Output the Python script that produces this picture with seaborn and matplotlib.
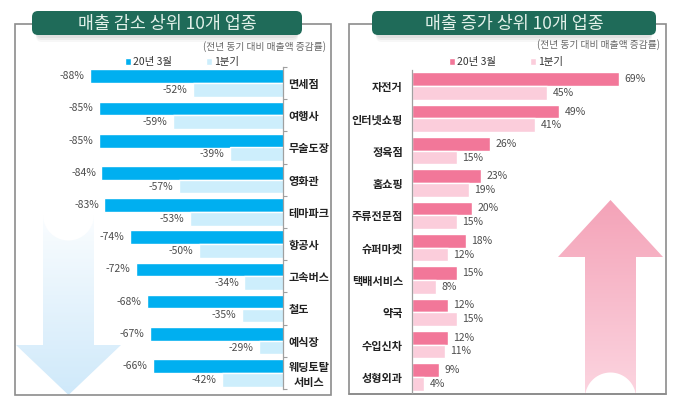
import numpy as np
import pandas as pd
import matplotlib.pyplot as plt
import seaborn as sns
from matplotlib.patches import Rectangle, FancyBboxPatch, PathPatch
from matplotlib.path import Path
from matplotlib.colors import LinearSegmentedColormap

# data
series = ['20년 3월', '1분기']

dec_cats = ['면세점', '여행사', '무술도장', '영화관', '테마파크',
            '항공사', '고속버스', '철도', '예식장', '웨딩토탈\n서비스']
dec_mar = [-88, -85, -85, -84, -83, -74, -72, -68, -67, -66]
dec_q1 = [-52, -59, -39, -57, -53, -50, -34, -35, -29, -42]

inc_cats = ['자전거', '인터넷쇼핑', '정육점', '홈쇼핑', '주류전문점',
            '슈퍼마켓', '택배서비스', '약국', '수입신차', '성형외과']
inc_mar = [69, 49, 26, 23, 20, 18, 15, 12, 12, 9]
inc_q1 = [45, 41, 15, 19, 15, 12, 8, 15, 11, 4]

W, H = 680, 403
sns.set_style('white')
plt.rcParams['font.family'] = ['Noto Sans CJK KR', 'DejaVu Sans']

fig = plt.figure(figsize=(W / 100, H / 100), dpi=100)

# background layer in pixel coordinates (boxes, banners, arrows)
bg = fig.add_axes([0, 0, 1, 1], zorder=0)
bg.set_xlim(0, W)
bg.set_ylim(H, 0)
bg.axis('off')


def px_axes(x0, y0, x1, y1):
    a = fig.add_axes([x0 / W, 1 - y1 / H, (x1 - x0) / W, (y1 - y0) / H], zorder=2)
    a.patch.set_alpha(0)
    return a


def gradient_shape(verts, codes, c_top, c_bot, y0, y1, x0, x1):
    path = Path(verts, codes)
    patch = PathPatch(path, facecolor='none', edgecolor='none')
    bg.add_patch(patch)
    cmap = LinearSegmentedColormap.from_list('g', [c_top, c_bot])
    grad = np.linspace(0, 1, 256).reshape(-1, 1)
    im = bg.imshow(grad, cmap=cmap, extent=(x0, x1, y1, y0), origin='upper',
                   aspect='auto', zorder=1)
    im.set_clip_path(patch)


# panel boxes
for x0, y0, x1, y1 in [(15, 24, 331, 395), (349, 24, 666, 394)]:
    bg.add_patch(Rectangle((x0, y0), x1 - x0, y1 - y0, fill=False,
                           edgecolor='#8c8c8c', lw=1.2, zorder=2))

# down arrow (left)
cx, r = 68.5, 25.5
t = np.linspace(np.pi, 0, 40)
arc = list(zip(cx + r * np.cos(t), 215 + r * np.sin(t)))
verts = arc + [(94, 345), (121, 345), (68.5, 395), (16, 345), (43, 345), (43, 215)]
codes = [Path.MOVETO] + [Path.LINETO] * (len(verts) - 2) + [Path.CLOSEPOLY]
gradient_shape(verts, codes, '#ffffff', '#cfe9fa', 195, 395, 16, 121)

# up arrow (right)
cx, r = 610.5, 25.5
t = np.linspace(0, -np.pi, 40)
arc = list(zip(cx + r * np.cos(t), 398 + r * np.sin(t)))
verts = [(610.5, 200), (663, 257), (636, 257)] + arc + [(585, 257), (558, 257), (610.5, 200)]
codes = [Path.MOVETO] + [Path.LINETO] * (len(verts) - 2) + [Path.CLOSEPOLY]
gradient_shape(verts, codes, '#f4a3b8', '#fcd6e1', 200, 400, 558, 663)
bg.add_patch(Rectangle((349, 394.6), 320, 10, color='white', zorder=1.5))
bg.plot([349, 666], [394, 394], color='#8c8c8c', lw=1.2, zorder=2)

# title banners
for x0, x1, title in [(32, 302, '매출 감소 상위 10개 업종'), (372, 656, '매출 증가 상위 10개 업종')]:
    for k, a in enumerate([0.10, 0.08, 0.06]):
        bg.add_patch(FancyBboxPatch((x0 + 4, 14 + 2 * k), x1 - x0 - 8, 24,
                                    boxstyle='round,pad=0,rounding_size=6',
                                    facecolor='#777777', edgecolor='none', alpha=a, zorder=3))
    bg.add_patch(FancyBboxPatch((x0, 11), x1 - x0, 24, boxstyle='round,pad=0,rounding_size=6',
                                facecolor='#1f6b59', edgecolor='none', zorder=4))
    bg.text((x0 + x1) / 2, 23.5, title, color='#e3f1ea', fontsize=12.5,
            ha='center', va='center', zorder=5)

bg.text(326, 47, '(전년 동기 대비 매출액 증감률)', fontsize=7, color='#666666',
        ha='right', va='center', zorder=5)
bg.text(660, 45, '(전년 동기 대비 매출액 증감률)', fontsize=7, color='#666666',
        ha='right', va='center', zorder=5)


def draw_panel(ax, cats, mar, q1, colors, xlim, side, legend_xy):
    df = pd.DataFrame({'업종': cats * 2,
                       '구분': [series[0]] * len(cats) + [series[1]] * len(cats),
                       '증감률': mar + q1})
    sns.barplot(data=df, y='업종', x='증감률', hue='구분', hue_order=series,
                palette=colors, orient='h', width=0.85, ax=ax, saturation=1)
    handles, labels = ax.get_legend_handles_labels()
    ax.legend(handles, labels, ncol=2, frameon=False, loc='center',
              bbox_to_anchor=(legend_xy[0] / W, 1 - legend_xy[1] / H),
              bbox_transform=fig.transFigure, handlelength=0.6, handleheight=0.6,
              handletextpad=0.2, columnspacing=3.2, fontsize=7.5,
              labelcolor='#333333')
    for cont in ax.containers:
        vals = [int(round(b.get_width())) for b in cont]
        ax.bar_label(cont, labels=[f'{v}%' for v in vals], padding=4,
                     fontsize=7.5, color='#4d4d4d', clip_on=False)
    ax.set_xlim(*xlim)
    ax.set_xlabel('')
    ax.set_ylabel('')
    ax.set_xticks([])
    for s in ax.spines.values():
        s.set_visible(False)
    ax.spines[side].set_visible(True)
    ax.spines[side].set_color('#a0a0a0')
    ax.spines[side].set_linewidth(0.9)
    if side == 'right':
        ax.yaxis.tick_right()
        pad = 4
    else:
        pad = 6.5
    ax.set_yticks(range(len(cats)))
    ax.set_yticklabels(cats, fontsize=8, fontweight='bold', color='#222222',
                       multialignment='center')
    ax.set_yticks(np.arange(-0.5, len(cats), 1), minor=True)
    ax.tick_params(axis='y', which='major', length=0, pad=pad)
    ax.tick_params(axis='y', which='minor', length=3, color='#a0a0a0', width=0.8)
    ax.set_ylim(len(cats) - 0.5, -0.5)


ax_l = px_axes(40, 67, 283, 389)
draw_panel(ax_l, dec_cats, dec_mar, dec_q1, ['#00aff0', '#cdeefc'],
           (-105.5, -20.5), 'right', (182, 62))

ax_r = px_axes(412, 70, 652, 393)
draw_panel(ax_r, inc_cats, inc_mar, inc_q1, ['#f27799', '#fbcddb'],
           (0, 80), 'left', (506, 62))

fig.savefig('out.png', dpi=100)
